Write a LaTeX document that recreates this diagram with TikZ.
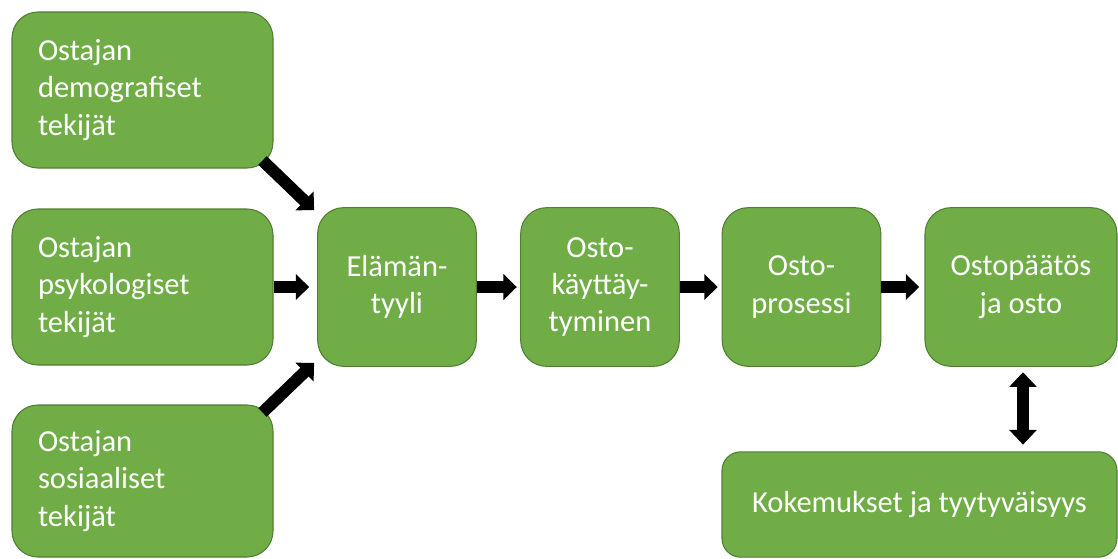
\documentclass[tikz,border=0pt]{standalone}
\usepackage{fontspec}
\setmainfont{Carlito}
\usetikzlibrary{arrows.meta,calc}
\definecolor{boxgreen}{HTML}{70AD47}
\definecolor{boxedge}{HTML}{507E32}
\begin{document}
\begin{tikzpicture}[x=0.75pt,y=-0.75pt,
  card/.style={draw=boxedge, line width=0.8pt, fill=boxgreen, text=white,
    rounded corners=19.5pt, inner sep=0pt,
    font=\fontsize{22.9pt}{28pt}\selectfont},
  factor/.style={card, align=left, inner xsep=19.5pt, text width=156.75pt,
    minimum height=117pt},
  stage/.style={card, align=center, minimum width=119pt, minimum height=119pt},
  blk/.style={line width=9pt, draw=black,
    -{Triangle[width=19pt,length=10pt]}},
  dblk/.style={line width=9pt, draw=black,
    {Triangle[width=20pt,length=11pt]}-{Triangle[width=20pt,length=11pt]}}
]
\useasboundingbox (0,0) rectangle (1118,558);

% influencing factors
\node[factor] (demo) at (142.5,90) {Ostajan\\demografiset\\tekijät};
\node[factor] (psyk) at (142.5,287) {Ostajan\\psykologiset\\tekijät};
\node[factor, minimum height=114pt] (sos) at (142.5,481) {Ostajan\\sosiaaliset\\tekijät};

% main chain
\node[stage] (elam) at (397,287) {Elämän-\\tyyli};
\node[stage] (kayt) at (600,287) {Osto-\\käyttäy-\\tyminen};
\node[stage] (pros) at (801.5,287) {Osto-\\prosessi};
\node[stage, minimum width=144pt] (paat) at (1021,287) {Ostopäätös\\ja osto};

% feedback box
\node[card, minimum width=296.25pt, minimum height=79pt, rounded corners=14pt]
  (koke) at (919.5,504.5) {Kokemukset ja tyytyväisyys};

% connectors
\draw[blk] ($(demo.south east)+(-11,-8)$) -- ($(elam.north west)+(-3,3)$);
\draw[blk] ($(sos.north east)+(-11,8)$) -- ($(elam.south west)+(-3,-4)$);
\draw[blk, shorten >=6pt] (psyk.east) -- (elam.west);
\draw[blk, shorten >=2.5pt] (elam.east) -- (kayt.west);
\draw[blk, shorten >=3pt] (kayt.east) -- (pros.west);
\draw[blk, shorten >=4pt] (pros.east) -- (paat.west);
\draw[dblk, shorten <=4pt, shorten >=5pt]
  ($(paat.south)+(2,0)$) -- ($(koke.north)+(103.5,0)$);
\end{tikzpicture}
\end{document}
